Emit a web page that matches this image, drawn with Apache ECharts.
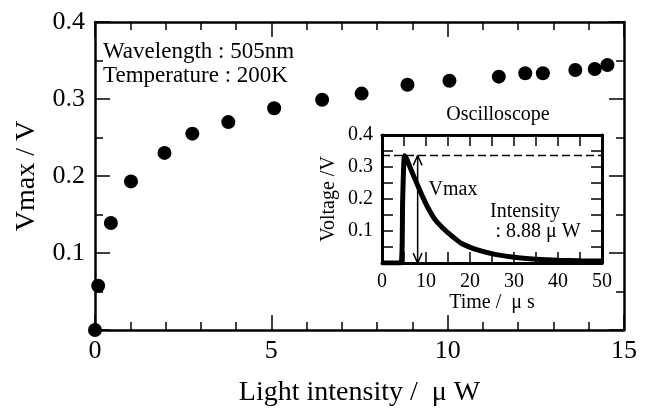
<!DOCTYPE html>
<html>
<head>
<meta charset="utf-8">
<script src="https://cdn.jsdelivr.net/npm/echarts@6/dist/echarts.min.js"></script>
<style>
  html, body { margin: 0; padding: 0; background: #fff; }
  #chart { width: 646px; height: 412px; }
</style>
</head>
<body>
<div id="chart"></div>
<script>
// main plot: Vmax vs light intensity
var intensity = [0, 0.09, 0.45, 1.02, 1.97, 2.76, 3.78, 5.08, 6.44, 7.56, 8.86, 10.05, 11.45, 12.2, 12.7, 13.62, 14.17, 14.53]
var vmax = [0, 0.0575, 0.139, 0.193, 0.230, 0.255, 0.270, 0.288, 0.299, 0.307, 0.3186, 0.3237, 0.329, 0.3335, 0.3335, 0.3377, 0.339, 0.344]

// inset: oscilloscope trace at 8.88 uW
var pulseTime = [0, 4.3, 4.7, 5.1, 5.6, 6.2, 7.0, 8.2, 9.3, 10.5, 12.0, 14.3, 16.0, 18.1, 21.9, 25.7, 30, 35, 40, 45, 50]
var pulseVolt = [0, 0, 0.2, 0.335, 0.325, 0.305, 0.278, 0.240, 0.205, 0.171, 0.137, 0.103, 0.083, 0.061, 0.040, 0.027, 0.018, 0.012, 0.0085, 0.007, 0.006]
var peakLevel = 0.336
var dashEnd = [0, 51.5]
var arrowTime = 8.1
var headHalf = 1.0
var headLen = 0.031

var mainXTicks = ['0', '5', '10', '15']
var font = 'Liberation Serif'

function pairs (xs, ys) {
  var out = []
  for (var i = 0; i < xs.length; i++) {
    out.push([xs[i], ys[i]])
  }
  return out
}

function axisBase (opt) {
  var a = {
    gridIndex: opt.grid,
    type: 'value',
    min: opt.min,
    max: opt.max,
    interval: opt.interval,
    position: opt.position,
    axisLine: { show: true, onZero: false, lineStyle: { color: '#000', width: opt.lw } },
    axisTick: { show: true, inside: true, length: opt.tick, lineStyle: { color: '#000', width: 1.5 } },
    minorTick: { show: true, splitNumber: opt.split, length: opt.minor, lineStyle: { color: '#000', width: 1.5 } },
    splitLine: { show: false },
    axisLabel: { show: opt.labels, color: '#000', fontFamily: font, fontSize: opt.fs, margin: opt.margin, formatter: opt.formatter }
  }
  if (opt.name) {
    a.name = opt.name
    a.nameLocation = 'middle'
    a.nameGap = opt.nameGap
    a.nameTextStyle = { color: '#000', fontFamily: font, fontSize: opt.nameFs }
  }
  return a
}

var chart = echarts.init(document.getElementById('chart'))

var hideZero = function (v) { return v === 0 ? '' : v.toFixed(1) }

chart.setOption({
  animation: false,
  backgroundColor: '#fff',
  grid: [
    { left: 95, right: 22, top: 22, bottom: 79 },
    { left: 382, top: 135, width: 220, height: 128 }
  ],
  xAxis: [
    axisBase({ grid: 0, min: 0, max: 15, interval: 5, position: 'bottom', lw: 2.5, tick: 15, minor: 8, split: 5, labels: true, fs: 26, margin: 8,
      formatter: function (v) { return mainXTicks[v / 5] },
      name: 'Light intensity /  \u03bc W', nameGap: 49, nameFs: 28 }),
    axisBase({ grid: 0, min: 0, max: 15, interval: 5, position: 'top', lw: 2.5, tick: 15, minor: 8, split: 5, labels: false }),
    axisBase({ grid: 1, min: 0, max: 50, interval: 10, position: 'bottom', lw: 3, tick: 11, minor: 11, split: 2, labels: true, fs: 20, margin: 9,
      name: 'Time /  \u03bc s', nameGap: 30, nameFs: 20 }),
    axisBase({ grid: 1, min: 0, max: 50, interval: 10, position: 'top', lw: 3, tick: 11, minor: 11, split: 2, labels: false })
  ],
  yAxis: [
    axisBase({ grid: 0, min: 0, max: 0.4, interval: 0.1, position: 'left', lw: 2.5, tick: 15, minor: 8, split: 2, labels: true, fs: 26, margin: 10,
      formatter: hideZero, name: 'Vmax / V', nameGap: 54, nameFs: 28 }),
    axisBase({ grid: 0, min: 0, max: 0.4, interval: 0.1, position: 'right', lw: 2.5, tick: 15, minor: 8, split: 2, labels: false }),
    axisBase({ grid: 1, min: 0, max: 0.4, interval: 0.1, position: 'left', lw: 3, tick: 11, minor: 11, split: 2, labels: true, fs: 20, margin: 9,
      formatter: hideZero, name: 'Voltage /V', nameGap: 43, nameFs: 20 }),
    axisBase({ grid: 1, min: 0, max: 0.4, interval: 0.1, position: 'right', lw: 3, tick: 11, minor: 11, split: 2, labels: false })
  ],
  series: [
    {
      type: 'scatter',
      xAxisIndex: 0,
      yAxisIndex: 0,
      symbolSize: 14,
      clip: false,
      itemStyle: { color: '#000', opacity: 1 },
      data: pairs(intensity, vmax),
      z: 5
    },
    {
      type: 'line',
      xAxisIndex: 2,
      yAxisIndex: 2,
      showSymbol: false,
      smooth: 0.2,
      lineStyle: { color: '#000', width: 5 },
      data: pairs(pulseTime, pulseVolt),
      z: 4
    },
    {
      type: 'line',
      xAxisIndex: 2,
      yAxisIndex: 2,
      showSymbol: false,
      clip: false,
      lineStyle: { color: '#000', width: 1.5, type: [8, 4] },
      data: [[dashEnd[0], peakLevel], [dashEnd[1], peakLevel]]
    },
    {
      type: 'line',
      xAxisIndex: 2,
      yAxisIndex: 2,
      showSymbol: false,
      lineStyle: { color: '#000', width: 1.5 },
      data: [[arrowTime, 0], [arrowTime, peakLevel]]
    },
    {
      type: 'line',
      xAxisIndex: 2,
      yAxisIndex: 2,
      showSymbol: false,
      lineStyle: { color: '#000', width: 1.5 },
      data: [[arrowTime - headHalf, peakLevel - headLen], [arrowTime, peakLevel], [arrowTime + headHalf, peakLevel - headLen]]
    },
    {
      type: 'line',
      xAxisIndex: 2,
      yAxisIndex: 2,
      showSymbol: false,
      lineStyle: { color: '#000', width: 1.5 },
      data: [[arrowTime - headHalf, headLen], [arrowTime, 0], [arrowTime + headHalf, headLen]]
    }
  ],
  graphic: [
    { type: 'text', left: 103, top: 40, style: { text: 'Wavelength : 505nm\nTemperature : 200K', fontFamily: font, fontSize: 23, lineHeight: 24, fill: '#000' } },
    { type: 'text', x: 498, y: 115, style: { text: 'Oscilloscope', fontFamily: font, fontSize: 20, fill: '#000', align: 'center', verticalAlign: 'middle' } },
    { type: 'text', x: 453, y: 190, style: { text: 'Vmax', fontFamily: font, fontSize: 20, fill: '#000', align: 'center', verticalAlign: 'middle' } },
    { type: 'text', x: 525, y: 212, style: { text: 'Intensity', fontFamily: font, fontSize: 20, fill: '#000', align: 'center', verticalAlign: 'middle' } },
    { type: 'text', x: 538, y: 232, style: { text: ': 8.88 \u03bc W', fontFamily: font, fontSize: 20, fill: '#000', align: 'center', verticalAlign: 'middle' } }
  ]
})
</script>
</body>
</html>
